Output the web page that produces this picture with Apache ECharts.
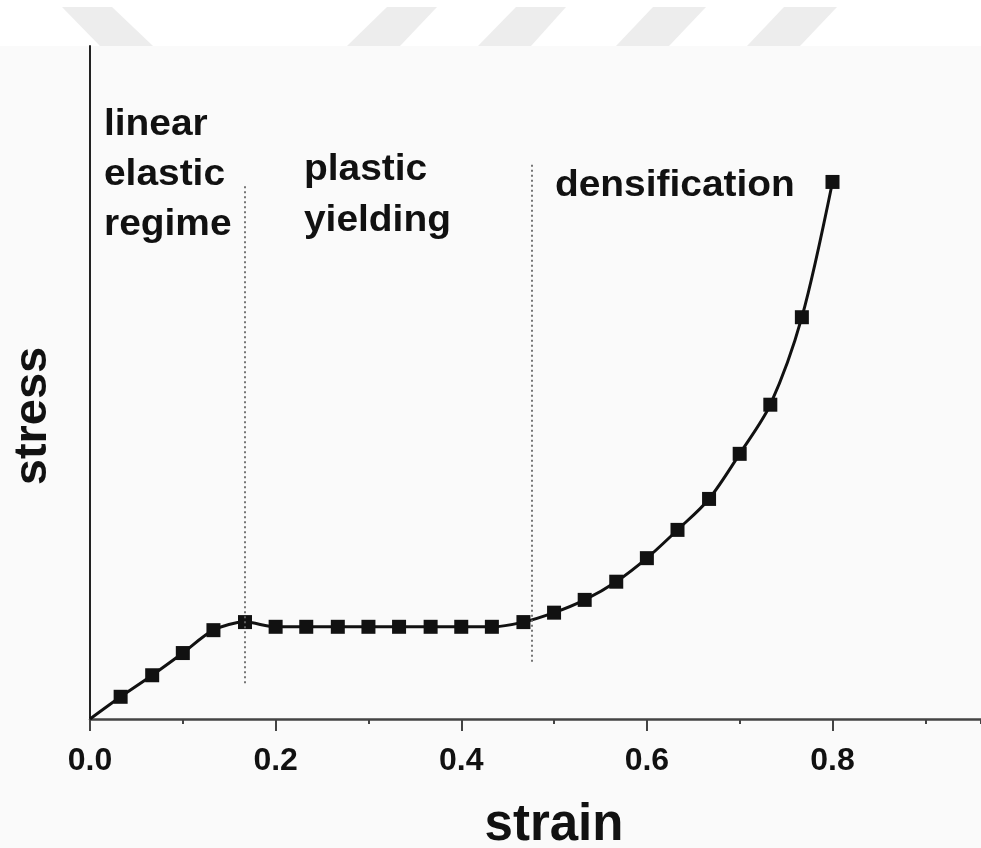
<!DOCTYPE html>
<html>
<head>
<meta charset="utf-8">
<title>stress–strain</title>
<script src="https://cdn.jsdelivr.net/npm/echarts@6/dist/echarts.min.js"></script>
<style>
  html, body { margin: 0; padding: 0; background: #fafafa; }
  #chart { width: 981px; height: 848px; }
</style>
</head>
<body>
<div id="chart"></div>
<script>
// Strain samples along the compression curve
const strain = [0, 0.033, 0.067, 0.1, 0.133, 0.167, 0.2, 0.233, 0.267, 0.3, 0.333,
                0.367, 0.4, 0.433, 0.467, 0.5, 0.533, 0.567, 0.6, 0.633, 0.667,
                0.7, 0.733, 0.767, 0.8];
// Stress (arbitrary units) at each strain sample
const stress = [0, 3.3, 6.5, 9.8, 13.2, 14.4, 13.7, 13.7, 13.7, 13.7, 13.7,
                13.7, 13.7, 13.7, 14.4, 15.8, 17.7, 20.4, 23.9, 28.1, 32.7,
                39.4, 46.7, 59.7, 79.8];
// Regime boundaries: strain position and vertical extent of each dotted divider
const boundaryStrain = [0.1665, 0.4757];
const boundaryLow = [5.3, 8.5];
const boundaryHigh = [79.3, 82.6];
// Regime names
const regimeNames = ['linear\nelastic\nregime', 'plastic\nyielding', 'densification'];
const xName = 'strain';
const yName = 'stress';
const xMax = 0.96;

const FONT = '"Liberation Sans", Arial, Helvetica, sans-serif';
const chart = echarts.init(document.getElementById('chart'), null, { renderer: 'canvas' });

const points = strain.map((x, i) => (i === 0 ? { value: [x, stress[i]], symbol: 'none' } : [x, stress[i]]));

// Light banner stripes across the top strip
const stripes = [
  [[62, 7], [112, 7], [153, 46], [100, 46]],
  [[387, 7], [437, 7], [400, 46], [347, 46]],
  [[516, 7], [566, 7], [531, 46], [478, 46]],
  [[653, 7], [706, 7], [669, 46], [616, 46]],
  [[784, 7], [837, 7], [800, 46], [747, 46]]
].map(pts => ({
  type: 'polygon', silent: true, z: -9,
  shape: { points: pts },
  style: { fill: '#ededed' }
}));

function textLines(str, x, y0, step) {
  return str.split('\n').map((line, k) => ({
    type: 'text', x: x, y: y0 + k * step, z: 10, scaleX: 1.08,
    style: {
      text: line, fill: '#111', font: 'bold 36px ' + FONT,
      textAlign: 'left', textVerticalAlign: 'middle'
    }
  }));
}

const option = {
  animation: false,
  backgroundColor: '#fafafa',
  grid: { left: 90, right: 0, top: 46, bottom: 129, containLabel: false },
  xAxis: [{
    // main strain axis: line, long ticks and labels every 0.2
    type: 'value', min: 0, max: xMax, interval: 0.2,
    axisLine: { onZero: false, lineStyle: { color: '#444', width: 2.5 } },
    axisTick: { show: true, inside: false, length: 12, lineStyle: { color: '#444', width: 2 } },
    axisLabel: {
      margin: 26, fontFamily: FONT, fontWeight: 'bold', fontSize: 32, color: '#111',
      showMaxLabel: false,
      formatter: v => (v > 0.85 ? '' : v.toFixed(1))
    },
    splitLine: { show: false }
  }, {
    // short ticks every 0.1
    type: 'value', min: 0, max: xMax, interval: 0.1, position: 'bottom',
    axisLine: { show: false, onZero: false },
    axisTick: { show: true, inside: false, length: 5, lineStyle: { color: '#444', width: 2 } },
    axisLabel: { show: false },
    splitLine: { show: false }
  }],
  yAxis: {
    type: 'value', min: 0, max: 100,
    axisLine: { show: true, onZero: false, lineStyle: { color: '#222', width: 2 } },
    axisTick: { show: false },
    axisLabel: { show: false },
    splitLine: { show: false }
  },
  graphic: [
    { type: 'rect', silent: true, z: -10, shape: { x: 0, y: 0, width: 981, height: 46 }, style: { fill: '#ffffff' } },
    ...stripes,
    ...textLines(regimeNames[0], 104, 125, 50),
    ...textLines(regimeNames[1], 304, 170, 51),
    ...textLines(regimeNames[2], 555, 186, 50),
    {
      type: 'text', x: 33, y: 416, rotation: Math.PI / 2, z: 10,
      style: {
        text: yName, fill: '#111', font: 'bold 47px ' + FONT,
        textAlign: 'center', textVerticalAlign: 'middle'
      }
    },
    {
      type: 'text', x: 554, y: 826, z: 10,
      style: {
        text: xName, fill: '#111', font: 'bold 51px ' + FONT,
        textAlign: 'center', textVerticalAlign: 'middle'
      }
    }
  ],
  series: [{
    type: 'line',
    data: points,
    smooth: 0.3,
    symbol: 'rect',
    symbolSize: 14,
    itemStyle: { color: '#111' },
    lineStyle: { color: '#111', width: 3 },
    clip: false,
    markLine: {
      silent: true,
      symbol: 'none',
      label: { show: false },
      lineStyle: { type: [2, 3], color: '#666', width: 1.8 },
      data: boundaryStrain.map((x, i) => [
        { coord: [x, boundaryLow[i]] },
        { coord: [x, boundaryHigh[i]] }
      ])
    }
  }]
};

chart.setOption(option);
</script>
</body>
</html>
